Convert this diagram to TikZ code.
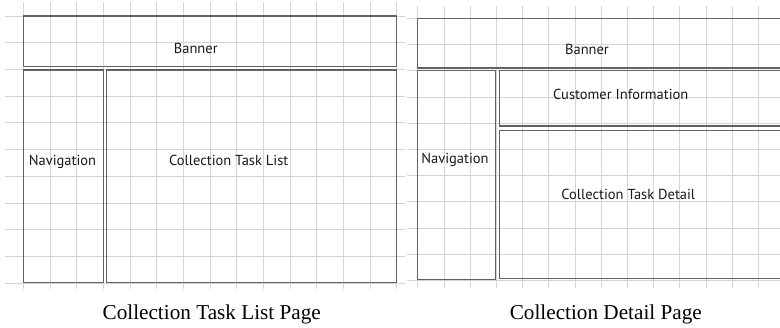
\documentclass[tikz,border=0pt]{standalone}
\usepackage{fontspec}
\setmainfont{Liberation Serif}
\newfontfamily\boxfont{PT Sans}
\begin{document}
\begin{tikzpicture}[x=1pt,y=-1pt,
  gridline/.style={draw=black!17,line width=0.7pt},
  wire/.style={draw=black!62,line width=1.1pt,inner sep=0pt,outer sep=0pt,anchor=north west},
  boxlabel/.style={font=\boxfont\fontsize{14.5}{16}\selectfont,inner sep=0pt,anchor=base,text=black!90},
  caption/.style={font=\fontsize{21.2}{24}\selectfont,inner sep=0pt,anchor=base}]
\useasboundingbox (0,0) rectangle (780,328);
\clip (0,0) rectangle (780,328);
\fill[white] (0,0) rectangle (780,328);
% left grid
\foreach \i in {0,...,14} \draw[gridline] ({23.3+26.667*\i},2) -- ({23.3+26.667*\i},289);
\foreach \j in {0,...,10} \draw[gridline] (5,{16+26.7*\j}) -- (405,{16+26.7*\j});
% right grid
\foreach \i in {0,...,14} \draw[gridline] ({417.7+26.2*\i},6) -- ({417.7+26.2*\i},288);
\foreach \j in {0,...,10} \draw[gridline] (407,{18.3+26.2*\j}) -- (780,{18.3+26.2*\j});
% left page
\node[wire,minimum width=373.4pt,minimum height=50.7pt] (lbanner) at (23.3,16) {};
\node[wire,minimum width=80pt,minimum height=212.7pt] (lnav) at (23.3,70) {};
\node[wire,minimum width=290pt,minimum height=212.7pt] (llist) at (106.7,70) {};
\node[boxlabel] (lbannertext) at (195.8,53.3) {Banner};
\node[boxlabel] (lnavtext) at (62.5,165.5) {Navigation};
\node[boxlabel] (llisttext) at (228.7,165.5) {Collection Task List};
% right page
\node[wire,minimum width=380pt,minimum height=49.7pt] (rbanner) at (417.7,18.3) {};
\node[wire,minimum width=77.6pt,minimum height=208.6pt] (rnav) at (417.7,70.7) {};
\node[wire,minimum width=300pt,minimum height=55.3pt] (rcust) at (499.3,70.7) {};
\node[wire,minimum width=300pt,minimum height=148pt] (rdetail) at (499.3,130.7) {};
\node[boxlabel] (rbannertext) at (587,54.7) {Banner};
\node[boxlabel] (rnavtext) at (455,164) {Navigation};
\node[boxlabel] (rcusttext) at (620.8,99.3) {Customer Information};
\node[boxlabel] (rdetailtext) at (628.3,200) {Collection Task Detail};
% captions
\node[caption] (lcaption) at (211.7,320) {Collection Task List Page};
\node[caption] (rcaption) at (605.8,320) {Collection Detail Page};
\end{tikzpicture}
\end{document}
